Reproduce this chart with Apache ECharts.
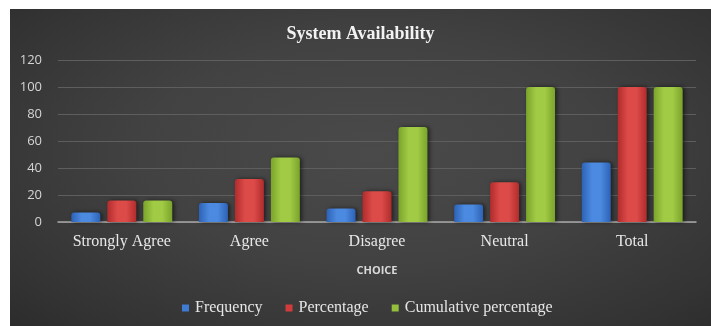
<!DOCTYPE html>
<html>
<head>
<meta charset="utf-8">
<script src="https://cdn.jsdelivr.net/npm/echarts@6/dist/echarts.min.js"></script>
<style>
  html, body { margin: 0; padding: 0; background: #ffffff; }
  #frame {
    position: absolute; left: 10px; top: 9px; width: 701px; height: 317px;
    background: radial-gradient(ellipse at 52% 45%, #4a4a4a 0%, #424242 45%, #333333 85%, #2c2c2c 100%);
  }
  #chart { width: 701px; height: 317px; }
</style>
</head>
<body>
<div id="frame"><div id="chart"></div></div>
<script>
// Survey responses for "System Availability"
const categories = ['Strongly Agree', 'Agree', 'Disagree', 'Neutral', 'Total'];
const frequency = [7, 14, 10, 13, 44];
const percentage = [15.9, 31.8, 22.7, 29.5, 100];
const cumulative = [15.9, 47.7, 70.4, 100, 100];
const seriesNames = ['Frequency', 'Percentage', 'Cumulative percentage'];
const yTicks = { min: 0, max: 120, step: 20 };

function barFill(edge, mid) {
  return {
    type: 'linear', x: 0, y: 0, x2: 1, y2: 0,
    colorStops: [
      { offset: 0, color: edge },
      { offset: 0.35, color: mid },
      { offset: 0.65, color: mid },
      { offset: 1, color: edge }
    ]
  };
}

const palette = [
  { edge: '#2d62b5', mid: '#4b8ae0', solid: '#3f7ad3' },
  { edge: '#b02c2c', mid: '#dd4b49', solid: '#d03c3c' },
  { edge: '#7aa42b', mid: '#a2cb45', solid: '#93bf3c' }
];

function makeSeries(name, data, idx) {
  return {
    name: name,
    type: 'bar',
    data: data,
    barWidth: 29,
    barGap: '24%',
    itemStyle: {
      color: barFill(palette[idx].edge, palette[idx].mid),
      borderRadius: [3, 3, 0, 0],
      shadowColor: 'rgba(0,0,0,0.55)',
      shadowBlur: 4,
      shadowOffsetX: 2,
      shadowOffsetY: 0
    }
  };
}

const chart = echarts.init(document.getElementById('chart'), null, { renderer: 'canvas' });
chart.setOption({
  backgroundColor: 'transparent',
  animation: false,
  color: palette.map(p => p.solid),
  title: {
    text: 'System Availability',
    left: 'center',
    top: 11,
    textStyle: {
      fontFamily: '"Liberation Serif", "Times New Roman", serif',
      fontWeight: 'bold',
      fontSize: 18,
      color: '#f2f2f2'
    }
  },
  legend: {
    data: seriesNames.map((n, i) => ({ name: n, itemStyle: { color: palette[i].solid } })),
    left: 167,
    top: 286,
    icon: 'rect',
    itemWidth: 7,
    itemHeight: 7,
    itemGap: 23,
    textStyle: {
      fontFamily: '"Liberation Serif", "Times New Roman", serif',
      fontSize: 16,
      color: '#e6e6e6',
      padding: [0, 0, 0, 1]
    }
  },
  grid: { left: 48, right: 15, top: 51, bottom: 104 },
  xAxis: {
    type: 'category',
    data: categories,
    name: 'CHOICE',
    nameLocation: 'middle',
    nameGap: 43,
    nameTextStyle: {
      fontFamily: '"Open Sans", "DejaVu Sans", sans-serif',
      fontWeight: 'bold',
      fontSize: 11,
      color: '#d9d9d9'
    },
    axisLine: { lineStyle: { color: '#a8a8a8', width: 1.5 } },
    axisTick: { show: false },
    axisLabel: {
      interval: 0,
      margin: 12,
      fontFamily: '"Liberation Serif", "Times New Roman", serif',
      fontSize: 16,
      color: '#e8e8e8'
    }
  },
  yAxis: {
    type: 'value',
    min: yTicks.min,
    max: yTicks.max,
    interval: yTicks.step,
    axisLine: { show: false },
    axisTick: { show: false },
    splitLine: { lineStyle: { color: '#5e5e5e', width: 1 } },
    axisLabel: {
      margin: 16,
      fontFamily: '"Open Sans", "DejaVu Sans", sans-serif',
      fontSize: 13,
      color: '#d4d4d4'
    }
  },
  series: [
    makeSeries(seriesNames[0], frequency, 0),
    makeSeries(seriesNames[1], percentage, 1),
    makeSeries(seriesNames[2], cumulative, 2)
  ]
});
</script>
</body>
</html>
